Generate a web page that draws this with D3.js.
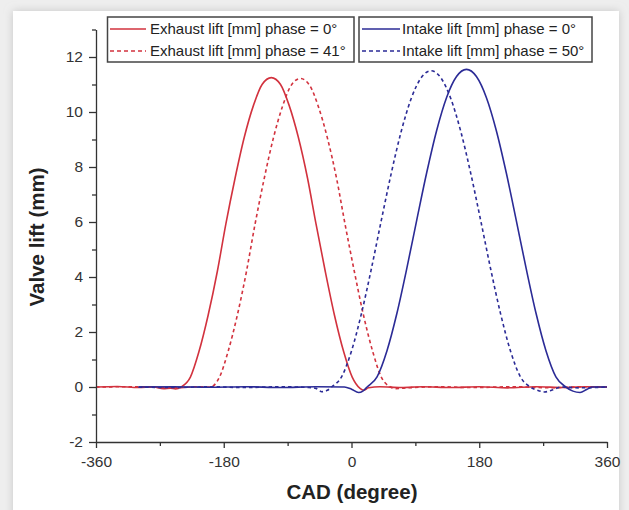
<!DOCTYPE html>
<html>
<head>
<meta charset="utf-8">
<script src="https://cdn.jsdelivr.net/npm/d3@7"></script>
<style>
  html, body { margin: 0; padding: 0; background: #efefef; }
  svg { display: block; }
  text { font-family: "Liberation Sans", Arial, sans-serif; }
</style>
</head>
<body>
<svg id="chart" width="629" height="510"></svg>
<script>
// ---------- DATA ----------
// [crank angle (degree), valve lift (mm)]
const exhaustPhase0 = [
  [-360,0],[-330,0.02],[-300,-0.02],[-280,0.01],[-265,-0.06],[-255,-0.04],[-248,-0.07],
  [-240,0],[-227,0.36],[-215,1.28],[-202,2.61],[-189,4.21],[-177,5.93],[-164,7.60],
  [-151,9.09],[-138,10.25],[-126,11.00],[-113,11.25],[-100,11.00],[-88,10.25],[-75,9.09],
  [-62,7.60],[-50,5.93],[-37,4.21],[-24,2.61],[-11,1.28],[1,0.36],[12,-0.05],[17,-0.12],
  [24,-0.03],[40,0.01],[70,-0.02],[100,0.01],[140,-0.02],[180,0.01],[220,-0.03],
  [260,0.01],[300,-0.02],[330,0.01],[360,0]
];
const exhaustPhase41 = [
  [-360,0],[-300,0.01],[-250,-0.03],[-215,0.01],[-199,0],[-186,0.36],[-174,1.28],
  [-161,2.60],[-148,4.20],[-136,5.91],[-123,7.58],[-110,9.06],[-97,10.22],[-85,10.97],
  [-72,11.22],[-59,10.97],[-47,10.22],[-34,9.06],[-21,7.58],[-9,5.91],[4,4.20],[17,2.60],
  [30,1.28],[42,0.36],[55,0],[62,-0.06],[80,-0.03],[120,0.01],[170,-0.02],[230,0.01],
  [280,-0.03],[330,0.01],[360,0]
];
const intakePhase0 = [
  [-300,0],[-250,0.01],[-200,-0.01],[-150,0.01],[-100,-0.02],[-50,0.01],[-10,0],
  [0,-0.08],[10,-0.2],[16,-0.15],[22,0],[36,0.37],[50,1.32],[64,2.68],[78,4.32],
  [92,6.08],[106,7.80],[120,9.33],[134,10.53],[148,11.29],[162,11.55],[176,11.29],
  [190,10.53],[204,9.33],[218,7.80],[232,6.08],[246,4.32],[260,2.68],[274,1.32],
  [288,0.37],[302,0],[312,-0.15],[322,-0.2],[332,-0.08],[340,0],[360,0]
];
const intakePhase50 = [
  [-300,0],[-250,-0.02],[-200,0.01],[-150,-0.02],[-100,0.01],[-60,-0.02],[-50,-0.05],
  [-42,-0.17],[-34,-0.12],[-28,0],[-14,0.37],[0,1.31],[14,2.67],[28,4.30],[42,6.06],
  [56,7.77],[70,9.29],[84,10.48],[98,11.24],[112,11.5],[126,11.24],[140,10.48],
  [154,9.29],[168,7.77],[182,6.06],[196,4.30],[210,2.67],[224,1.31],[238,0.37],
  [252,0],[262,-0.12],[272,-0.18],[284,-0.1],[295,0],[320,-0.03],[360,0]
];

const seriesNames  = ["Exhaust lift [mm] phase = 0°", "Exhaust lift [mm] phase = 41°",
                      "Intake lift [mm] phase = 0°",  "Intake lift [mm] phase = 50°"];
const xMajorTicks = [-360, -180, 0, 180, 360];
const xMinorTicks = [-270, -90, 90, 270];
const yMajorTicks = [-2, 0, 2, 4, 6, 8, 10, 12];
const yMinorTicks = [-1, 1, 3, 5, 7, 9, 11, 13];
const xTitle = "CAD (degree)";
const yTitle = "Valve lift (mm)";

// ---------- STYLES ----------
const RED = "#d2323e", BLUE = "#2b2b96", AXIS = "#333";
const series = [
  { name: seriesNames[0], data: exhaustPhase0,  color: RED,  dash: null },
  { name: seriesNames[1], data: exhaustPhase41, color: RED,  dash: "3.5,3" },
  { name: seriesNames[2], data: intakePhase0,   color: BLUE, dash: null },
  { name: seriesNames[3], data: intakePhase50,  color: BLUE, dash: "3.5,3" }
];

const svg = d3.select("#chart");

// background frame
const defs = svg.append("defs");
const f = defs.append("filter").attr("id", "sh").attr("x", "-5%").attr("y", "-5%")
  .attr("width", "110%").attr("height", "110%");
f.append("feDropShadow").attr("dx", 0).attr("dy", 0).attr("stdDeviation", 4)
  .attr("flood-color", "#bdbdbd").attr("flood-opacity", 0.8);
svg.append("rect").attr("width", 629).attr("height", 510).attr("fill", "#eeeeee");
svg.append("rect").attr("x", 13).attr("y", 11).attr("width", 606).attr("height", 510)
  .attr("fill", "#ffffff").attr("filter", "url(#sh)");

const x = d3.scaleLinear().domain([-360, 360]).range([96, 607]);
const y = d3.scaleLinear().domain([-2, 13]).range([442, 29.5]);

// curves
const line = d3.line().x(d => x(d[0])).y(d => y(d[1])).curve(d3.curveMonotoneX);
svg.append("g").selectAll("path").data(series).join("path")
  .attr("d", s => line(s.data))
  .attr("fill", "none")
  .attr("stroke", s => s.color)
  .attr("stroke-width", 1.6)
  .attr("stroke-dasharray", s => s.dash);

// axes
const fmt = d => String(d);
function styleAxis(g) {
  g.selectAll("path.domain").attr("stroke", AXIS).attr("stroke-width", 1.3);
  g.selectAll(".tick line").attr("stroke", AXIS).attr("stroke-width", 1.3);
  g.selectAll(".tick text").attr("fill", "#333").attr("font-size", 15.5)
    .attr("font-family", "'Liberation Sans', Arial, sans-serif");
}
const yAxis = svg.append("g").attr("transform", `translate(${x(-360)},0)`)
  .call(d3.axisLeft(y).tickValues(yMajorTicks).tickSize(7).tickSizeOuter(0)
    .tickPadding(6).tickFormat(fmt));
styleAxis(yAxis);
const yMinor = svg.append("g").attr("transform", `translate(${x(-360)},0)`)
  .call(d3.axisLeft(y).tickValues(yMinorTicks).tickSize(4).tickSizeOuter(0).tickFormat(""));
yMinor.select("path.domain").remove();
styleAxis(yMinor);

const xAxis = svg.append("g").attr("transform", `translate(0,${y(-2)})`)
  .call(d3.axisBottom(x).tickValues(xMajorTicks).tickSize(6).tickSizeOuter(0)
    .tickPadding(8).tickFormat(fmt));
styleAxis(xAxis);
const xMinor = svg.append("g").attr("transform", `translate(0,${y(-2)})`)
  .call(d3.axisBottom(x).tickValues(xMinorTicks).tickSize(4).tickSizeOuter(0).tickFormat(""));
xMinor.select("path.domain").remove();
styleAxis(xMinor);

// axis titles
svg.append("text").attr("x", 352).attr("y", 499).attr("text-anchor", "middle")
  .attr("font-size", 20.5).attr("font-weight", "bold").attr("fill", "#222").text(xTitle);
svg.append("text").attr("transform", "translate(44,237) rotate(-90)")
  .attr("text-anchor", "middle").attr("font-size", 20.5).attr("font-weight", "bold")
  .attr("fill", "#222").text(yTitle);

// legends (two boxes)
const boxes = [
  { x0: 107.5, x1: 354, items: [series[0], series[1]], lx0: 110, lx1: 146, tx: 150 },
  { x0: 359,   x1: 592, items: [series[2], series[3]], lx0: 362, lx1: 400, tx: 402 }
];
const rowY = [29, 51];
boxes.forEach(b => {
  const g = svg.append("g");
  g.append("rect").attr("x", b.x0).attr("y", 17).attr("width", b.x1 - b.x0).attr("height", 45)
    .attr("fill", "#fff").attr("stroke", "#444").attr("stroke-width", 1.5);
  b.items.forEach((s, i) => {
    g.append("line").attr("x1", b.lx0).attr("x2", b.lx1).attr("y1", rowY[i]).attr("y2", rowY[i])
      .attr("stroke", s.color).attr("stroke-width", 1.5).attr("stroke-dasharray", s.dash ? "4,3" : null);
    g.append("text").attr("x", b.tx).attr("y", rowY[i] + 5).attr("font-size", 15)
      .attr("fill", "#222").text(s.name);
  });
});
</script>
</body>
</html>
